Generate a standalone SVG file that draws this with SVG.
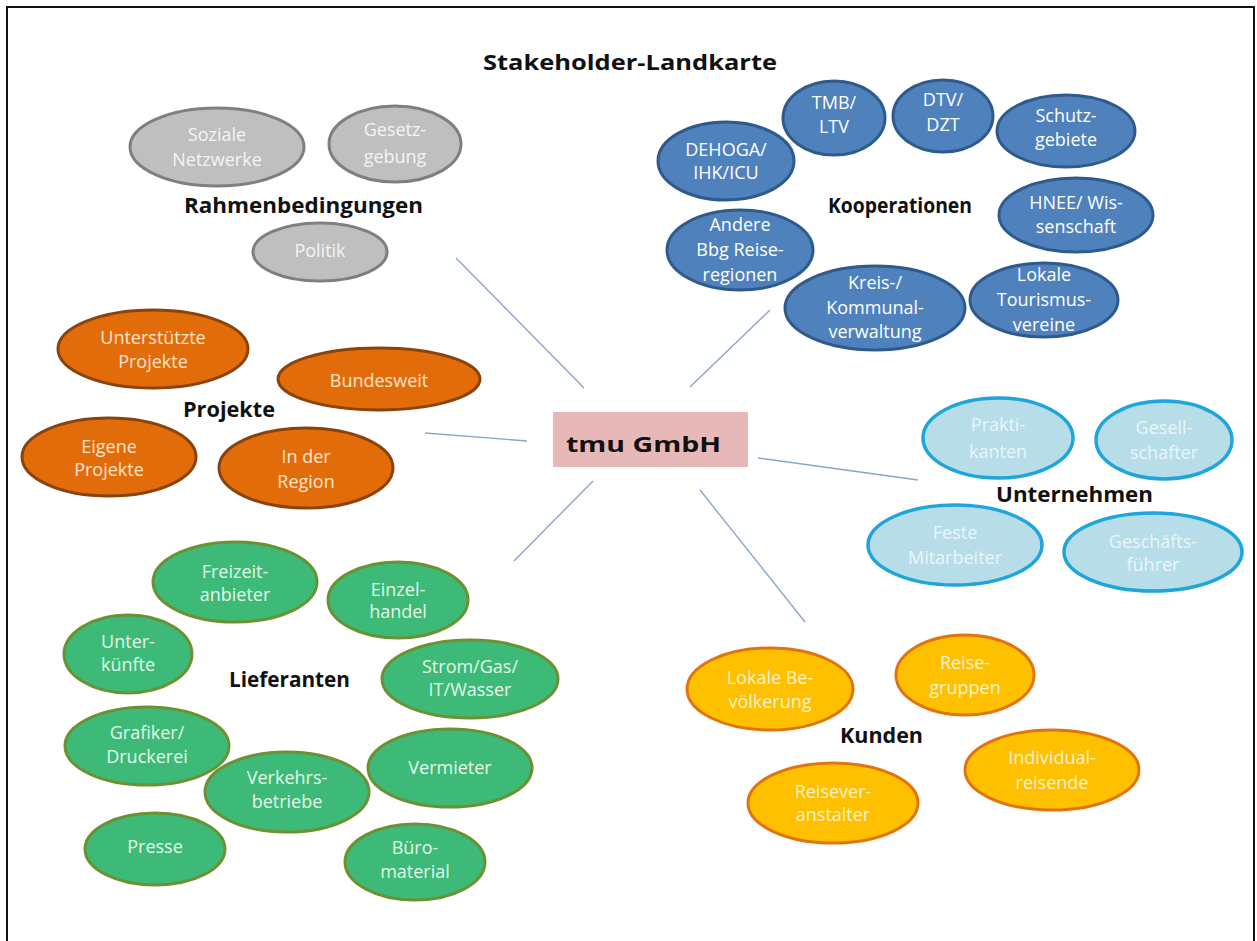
<svg xmlns="http://www.w3.org/2000/svg" width="1257" height="941" viewBox="0 0 1257 941">
<style>
.t{font-family:"Open Sans","Noto Sans","Liberation Sans",sans-serif;font-size:18px;text-anchor:middle}
text.h{font-family:"Open Sans","Noto Sans","Liberation Sans",sans-serif;font-weight:bold;font-size:22px;fill:#111;text-anchor:middle}
.gray ellipse{fill:#bfbfbf;stroke:#7f7f7f;stroke-width:3}
.gray text{fill:#f4f4f4}
.blue ellipse{fill:#4f81bd;stroke:#2f5a8c;stroke-width:3}
.blue text{fill:#ffffff}
.orange ellipse{fill:#e36c0a;stroke:#8a430c;stroke-width:3}
.orange text{fill:#fde4cc}
.lblue ellipse{fill:#b7dde8;stroke:#1ea5dc;stroke-width:3.5}
.lblue text{fill:#eaf6fa}
.green ellipse{fill:#3dba78;stroke:#6a9232;stroke-width:3}
.green text{fill:#e4f7ea}
.yellow ellipse{fill:#ffc000;stroke:#e2740f;stroke-width:3}
.yellow text{fill:#fff3cf}
#connectors line{stroke:#8aa6cc;stroke-width:1.4}
</style>
<rect x="0" y="0" width="1257" height="941" fill="#ffffff"/>
<rect x="7" y="7" width="1247" height="950" fill="none" stroke="#111" stroke-width="2"/>
<text class="h" x="630" y="70" font-size="25" textLength="294" lengthAdjust="spacingAndGlyphs">Stakeholder-Landkarte</text>

<g id="connectors">
<line x1="456" y1="258" x2="584" y2="388"/>
<line x1="770" y1="310" x2="690" y2="387"/>
<line x1="425" y1="433" x2="527" y2="441"/>
<line x1="758" y1="458" x2="918" y2="480"/>
<line x1="593" y1="481" x2="514" y2="561"/>
<line x1="700" y1="490" x2="805" y2="622"/>
</g>

<g id="center">
<rect x="553" y="412" width="195" height="55" fill="#e6b9b8"/>
<text class="h" x="643.5" y="452" font-size="28" textLength="155" lengthAdjust="spacingAndGlyphs">tmu GmbH</text>
</g>

<g id="labels">
<text class="h" x="303.5" y="213" textLength="239" lengthAdjust="spacingAndGlyphs">Rahmenbedingungen</text>
<text class="h" x="900" y="213" textLength="144" lengthAdjust="spacingAndGlyphs">Kooperationen</text>
<text class="h" x="229" y="417" textLength="92" lengthAdjust="spacingAndGlyphs">Projekte</text>
<text class="h" x="1074.5" y="502" textLength="157" lengthAdjust="spacingAndGlyphs">Unternehmen</text>
<text class="h" x="289.5" y="687" textLength="121" lengthAdjust="spacingAndGlyphs">Lieferanten</text>
<text class="h" x="881.5" y="743" textLength="83" lengthAdjust="spacingAndGlyphs">Kunden</text>
</g>

<g id="rahmenbedingungen" class="gray">
<g id="n-soziale"><ellipse cx="217" cy="147" rx="87" ry="39"/><text class="t" x="217" y="141">Soziale</text><text class="t" x="217" y="166">Netzwerke</text></g>
<g id="n-gesetz"><ellipse cx="395" cy="144" rx="66" ry="38"/><text class="t" x="395" y="136">Gesetz-</text><text class="t" x="395" y="163">gebung</text></g>
<g id="n-politik"><ellipse cx="320" cy="252" rx="67" ry="29"/><text class="t" x="320" y="257">Politik</text></g>
</g>

<g id="kooperationen" class="blue">
<g id="n-tmb"><ellipse cx="834" cy="118" rx="51" ry="37"/><text class="t" x="834" y="109">TMB/</text><text class="t" x="834" y="133">LTV</text></g>
<g id="n-dtv"><ellipse cx="943" cy="116" rx="50" ry="36"/><text class="t" x="943" y="106">DTV/</text><text class="t" x="943" y="131">DZT</text></g>
<g id="n-schutz"><ellipse cx="1066" cy="131" rx="69" ry="36"/><text class="t" x="1066" y="122">Schutz-</text><text class="t" x="1066" y="146">gebiete</text></g>
<g id="n-dehoga"><ellipse cx="726" cy="161" rx="68" ry="39"/><text class="t" x="726" y="156">DEHOGA/</text><text class="t" x="726" y="179">IHK/ICU</text></g>
<g id="n-hnee"><ellipse cx="1076" cy="215" rx="77" ry="37"/><text class="t" x="1076" y="209">HNEE/ Wis-</text><text class="t" x="1076" y="233">senschaft</text></g>
<g id="n-andere"><ellipse cx="740" cy="250" rx="73" ry="40"/><text class="t" x="740" y="231">Andere</text><text class="t" x="740" y="256">Bbg Reise-</text><text class="t" x="740" y="281">regionen</text></g>
<g id="n-kreis"><ellipse cx="875" cy="308" rx="90" ry="42"/><text class="t" x="875" y="289">Kreis-/</text><text class="t" x="875" y="314">Kommunal-</text><text class="t" x="875" y="338">verwaltung</text></g>
<g id="n-lokale"><ellipse cx="1044" cy="300" rx="74" ry="37"/><text class="t" x="1044" y="281">Lokale</text><text class="t" x="1044" y="306">Tourismus-</text><text class="t" x="1044" y="331">vereine</text></g>
</g>

<g id="projekte" class="orange">
<g id="n-unterstuetzte"><ellipse cx="153" cy="349" rx="95" ry="39"/><text class="t" x="153" y="344">Unterstützte</text><text class="t" x="153" y="368">Projekte</text></g>
<g id="n-bundesweit"><ellipse cx="379" cy="379" rx="101" ry="31"/><text class="t" x="379" y="387">Bundesweit</text></g>
<g id="n-eigene"><ellipse cx="109" cy="457" rx="87" ry="39"/><text class="t" x="109" y="453">Eigene</text><text class="t" x="109" y="476">Projekte</text></g>
<g id="n-region"><ellipse cx="306" cy="468" rx="87" ry="40"/><text class="t" x="306" y="463">In der</text><text class="t" x="306" y="488">Region</text></g>
</g>

<g id="unternehmen" class="lblue">
<g id="n-praktikanten"><ellipse cx="998" cy="438" rx="75" ry="40"/><text class="t" x="998" y="431">Prakti-</text><text class="t" x="998" y="458">kanten</text></g>
<g id="n-gesellschafter"><ellipse cx="1164" cy="440" rx="68" ry="39"/><text class="t" x="1164" y="434">Gesell-</text><text class="t" x="1164" y="459">schafter</text></g>
<g id="n-feste"><ellipse cx="955" cy="545" rx="87" ry="40"/><text class="t" x="955" y="539">Feste</text><text class="t" x="955" y="564">Mitarbeiter</text></g>
<g id="n-gf"><ellipse cx="1153" cy="552" rx="89" ry="39"/><text class="t" x="1153" y="548">Geschäfts-</text><text class="t" x="1153" y="571">führer</text></g>
</g>

<g id="lieferanten" class="green">
<g id="n-freizeit"><ellipse cx="235" cy="582" rx="82" ry="40"/><text class="t" x="235" y="578">Freizeit-</text><text class="t" x="235" y="601">anbieter</text></g>
<g id="n-einzel"><ellipse cx="398" cy="600" rx="70" ry="38"/><text class="t" x="398" y="596">Einzel-</text><text class="t" x="398" y="618">handel</text></g>
<g id="n-unter"><ellipse cx="128" cy="654" rx="64" ry="39"/><text class="t" x="128" y="648">Unter-</text><text class="t" x="128" y="671">künfte</text></g>
<g id="n-strom"><ellipse cx="470" cy="679" rx="88" ry="39"/><text class="t" x="470" y="673">Strom/Gas/</text><text class="t" x="470" y="696">IT/Wasser</text></g>
<g id="n-grafiker"><ellipse cx="147" cy="746" rx="82" ry="39"/><text class="t" x="147" y="739">Grafiker/</text><text class="t" x="147" y="763">Druckerei</text></g>
<g id="n-vermieter"><ellipse cx="450" cy="768" rx="82" ry="39"/><text class="t" x="450" y="774">Vermieter</text></g>
<g id="n-verkehr"><ellipse cx="287" cy="792" rx="82" ry="40"/><text class="t" x="287" y="784">Verkehrs-</text><text class="t" x="287" y="808">betriebe</text></g>
<g id="n-presse"><ellipse cx="155" cy="849" rx="70" ry="36"/><text class="t" x="155" y="853">Presse</text></g>
<g id="n-buero"><ellipse cx="415" cy="862" rx="70" ry="38"/><text class="t" x="415" y="854">Büro-</text><text class="t" x="415" y="878">material</text></g>
</g>

<g id="kunden" class="yellow">
<g id="n-bevoelkerung"><ellipse cx="770" cy="689" rx="83" ry="41"/><text class="t" x="770" y="684">Lokale Be-</text><text class="t" x="770" y="708">völkerung</text></g>
<g id="n-reisegruppen"><ellipse cx="965" cy="675" rx="69" ry="40"/><text class="t" x="965" y="669">Reise-</text><text class="t" x="965" y="694">gruppen</text></g>
<g id="n-individual"><ellipse cx="1052" cy="770" rx="87" ry="40"/><text class="t" x="1052" y="764">Individual-</text><text class="t" x="1052" y="789">reisende</text></g>
<g id="n-veranstalter"><ellipse cx="833" cy="803" rx="85" ry="40"/><text class="t" x="833" y="798">Reisever-</text><text class="t" x="833" y="821">anstalter</text></g>
</g>
</svg>
